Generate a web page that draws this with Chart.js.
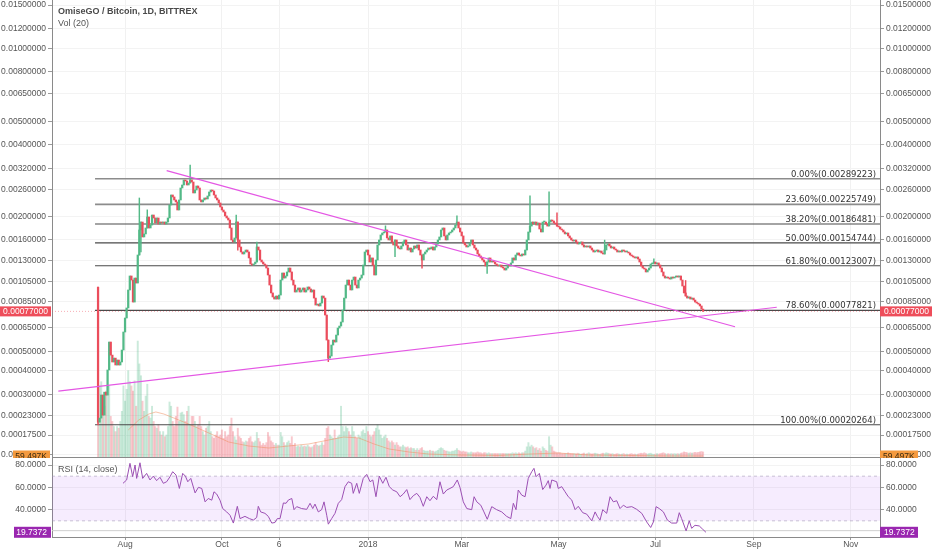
<!DOCTYPE html>
<html><head><meta charset="utf-8">
<script src="https://cdn.jsdelivr.net/npm/chart.js@4.4.1/dist/chart.umd.min.js"></script>
<style>
html,body{margin:0;padding:0;background:#fff;width:932px;height:550px;overflow:hidden;position:relative;font-family:'Liberation Sans',Arial,sans-serif}
#c1{position:absolute;left:0;top:0}
#c2{position:absolute;left:0;top:458px}
.t{position:absolute;white-space:nowrap;color:#4a4a4a;line-height:12px}
</style></head><body>
<canvas id="c1" width="932" height="458"></canvas>
<canvas id="c2" width="932" height="92"></canvas>
<div class="t" style="left:58px;top:5px;font-size:9px;font-weight:bold">OmiseGO / Bitcoin, 1D, BITTREX</div>
<div class="t" style="left:58px;top:17px;font-size:9px;color:#555">Vol (20)</div>
<div class="t" style="left:58px;top:463px;font-size:9px;color:#555">RSI (14, close)</div>
<script>
// ---------- DATA ----------
const startDay = -170;            // first candle: days relative to 1 Jan 2018
const firstOpen = 0.00099;
const closes = [
0.000210,0.000222,0.000299,0.000231,0.000310,0.000299,0.000404,0.000554,0.000479,0.000443,0.000463,0.000428,0.000453,0.000428,0.000443,0.000507,0.000618,0.000718,0.000798,0.000962,0.001110,
0.001065,0.000849,0.001087,0.001033,0.001371,0.001757,0.001900,0.001640,0.001690,0.001792,0.001996,0.001792,0.001845,0.002035,0.001977,0.001882,0.001977,0.001863,0.001900,0.001882,
0.001900,0.001863,0.001900,0.001977,0.002244,0.002473,0.002426,0.002356,0.002311,0.002137,0.002356,0.002646,0.002724,0.002858,0.002831,0.002724,0.002776,0.002858,0.002804,0.002522,
0.002595,0.002698,0.002646,0.002356,0.002311,0.002356,0.002402,0.002379,0.002449,0.002546,0.002595,0.002570,0.002473,0.002402,0.002356,0.002289,0.002201,0.002137,0.002096,0.002016,
0.001977,0.001938,0.001792,0.001592,0.001561,0.001624,0.001900,0.001592,0.001485,0.001413,0.001385,0.001413,0.001441,0.001413,0.001331,0.001253,0.001240,0.001253,0.001278,0.001485,
0.001441,0.001304,0.001278,0.001253,0.001240,0.001203,0.001121,0.001012,0.000933,0.000895,0.000876,0.000904,0.000876,0.000913,0.001065,0.001144,0.001087,0.001110,0.001156,0.001203,
0.001156,0.001065,0.001012,0.000942,0.000962,0.000982,0.000942,0.000962,0.000982,0.000942,0.000962,0.000992,0.000972,0.000942,0.000962,0.000885,0.000823,0.000831,0.000815,0.000840,
0.000904,0.000885,0.000741,0.000566,0.000463,0.000474,0.000536,0.000566,0.000554,0.000598,0.000645,0.000659,0.000688,0.000781,0.000885,0.001012,0.001065,0.001012,0.000962,0.001065,
0.001098,0.001012,0.000982,0.001065,0.001087,0.001121,0.001240,0.001413,0.001441,0.001371,0.001278,0.001331,0.001240,0.001121,0.001304,0.001515,0.001592,0.001673,0.001706,0.001723,
0.001757,0.001624,0.001592,0.001657,0.001561,0.001515,0.001592,0.001500,0.001470,0.001456,0.001500,0.001561,0.001592,0.001515,0.001441,0.001470,0.001413,0.001456,0.001500,0.001470,
0.001515,0.001441,0.001371,0.001304,0.001385,0.001413,0.001441,0.001470,0.001456,0.001485,0.001441,0.001485,0.001530,0.001592,0.001640,0.001757,0.001792,0.001657,0.001592,0.001673,
0.001706,0.001723,0.001757,0.001792,0.001845,0.001900,0.001792,0.001723,0.001657,0.001546,0.001515,0.001485,0.001500,0.001546,0.001592,0.001515,0.001470,0.001441,0.001385,0.001358,
0.001331,0.001304,0.001278,0.001228,0.001278,0.001331,0.001278,0.001291,0.001278,0.001253,0.001240,0.001228,0.001240,0.001215,0.001203,0.001179,0.001203,0.001240,0.001228,0.001266,
0.001331,0.001304,0.001371,0.001399,0.001371,0.001358,0.001385,0.001371,0.001441,0.001592,0.001723,0.001826,0.001900,0.001863,0.001900,0.001845,0.001882,0.001774,0.001723,0.001900,
0.001900,0.001863,0.001826,0.001900,0.001938,0.001919,0.001882,0.001863,0.001826,0.001810,0.001774,0.001757,0.001723,0.001690,0.001706,0.001657,0.001624,0.001592,0.001576,0.001592,
0.001561,0.001530,0.001546,0.001561,0.001515,0.001485,0.001500,0.001485,0.001500,0.001470,0.001441,0.001413,0.001427,0.001441,0.001413,0.001427,0.001399,0.001385,0.001441,0.001515,
0.001530,0.001500,0.001470,0.001485,0.001456,0.001441,0.001413,0.001427,0.001413,0.001441,0.001427,0.001413,0.001413,0.001399,0.001371,0.001358,0.001344,0.001331,0.001344,0.001317,
0.001278,0.001228,0.001203,0.001191,0.001156,0.001179,0.001203,0.001253,0.001266,0.001278,0.001253,0.001266,0.001240,0.001203,0.001156,0.001110,0.001087,0.001098,0.001087,0.001076,
0.001098,0.001087,0.001098,0.001110,0.001098,0.001110,0.001065,0.001002,0.000933,0.000904,0.000885,0.000895,0.000876,0.000885,0.000867,0.000849,0.000840,0.000831,0.000815,0.000789,0.000770
];
// notable wicks: candle index, high, low
const wickIdx   = [0,       26,      27,      31,      58,      87,      88,      100,     145,      181,     187,     204,     226,     245,     272,     284,     289,     319,     350,     370];
const wickHigh  = [0.00099, 0.002402,0.001900,0.00214, 0.0033,  0.002035,0.0019,  0.00156, 0.000566, 0.00183, 0.001592,0.001371,0.00202, 0.001278,0.00245, 0.00255, 0.00208, 0.00159, 0.00132, 0.00106];
const wickLow   = [0.000203,0.001371,0.001413,0.001792,0.002776,0.001624,0.00144, 0.001278,0.000445, 0.001723,0.00135, 0.0012,  0.001845,0.00114, 0.001723,0.001863,0.001826,0.001385,0.001253,0.000904];
// volume (thousands)
const volumes = [
720,840,890,720,600,780,840,840,480,420,360,300,360,340,420,540,840,660,800,1020,
890,840,780,900,600,1370,1100,960,660,540,720,860,480,460,600,420,360,340,380,300,
260,300,240,260,360,650,600,420,360,480,590,420,520,530,500,420,540,600,380,480,
480,420,360,380,480,360,300,260,340,360,420,300,240,220,260,300,240,260,320,220,
300,240,260,360,460,300,240,200,340,240,220,180,170,190,180,220,240,180,170,190,
290,220,180,140,160,140,170,290,240,190,170,140,160,140,140,290,240,170,140,170,
190,160,240,140,160,120,130,120,140,120,130,120,140,120,110,120,140,170,140,130,
140,170,140,220,340,360,260,240,220,320,220,240,260,600,360,300,360,340,300,260,
360,300,240,220,260,240,300,320,280,360,300,260,240,260,300,340,380,320,260,220,
240,260,220,190,170,190,170,140,170,140,120,120,140,120,110,120,100,110,100,100,
80,100,80,100,110,80,70,70,70,80,70,70,60,70,80,100,110,100,80,70,
70,60,60,70,70,80,100,80,70,60,70,60,60,50,50,60,50,50,50,60,
50,50,40,50,50,40,50,40,40,40,40,40,40,40,40,40,40,40,40,40,
40,50,40,50,40,50,40,50,50,70,120,170,120,140,120,100,110,80,100,70,
120,100,80,70,240,140,120,70,60,50,50,50,40,40,40,40,50,40,40,40,
40,35,45,40,30,40,45,35,40,50,40,35,40,45,40,35,30,40,45,40,
50,45,40,35,40,30,35,40,35,30,35,40,30,35,30,35,40,30,35,30,
35,40,45,40,50,40,35,40,45,35,30,35,40,35,40,45,50,40,35,40,
35,40,35,40,35,40,35,45,50,60,55,50,45,50,45,50,55,50,55,60,65,59.497
];
const volMaDays   = [-151,-144.4,-138,-133.6,-128.6,-122.3,-113,-100.3,-87.7,-75.1,-62.5,-50,-37.3,-24.7,-15.3,-5.8,3.7,13.2,25.8,38.4,57.3,82.3,101.2,120,139,164.2,189.4,211];
const volMaValues = [319,437,508,532,508,461,390,284,177,130,106,130,154,201,236,225,154,95,59,35,24,18,35,47,24,18,12,12];

const rsiDays = [-154.3,-152,-149.9,-148.2,-146.7,-145.7,-143.6,-141.9,-139.4,-137.3,-135.2,-133.1,-131,-128.9,-126.8,-124.7,-123,-120.9,-118.8,-116.7,-115,-113.5,-111.6,-108.9,-106.8,-104.7,-102.6,-100.6,-98.4,-97,-95.3,-93.2,-91.5,-89,-86.9,-84.8,-82.3,-80.6,-77.5,-74.7,-72.2,-70.1,-69.1,-67.6,-64.9,-62.8,-60.6,-58.6,-57.1,-55.4,-53.3,-51.6,-50.2,-48,-46.6,-44.9,-41.8,-38.6,-36.5,-34.8,-33.4,-31.3,-29.2,-27.7,-26,-25,-22.9,-20.8,-18.7,-16.6,-14.5,-12.4,-10.3,-9.3,-7.1,-5.5,-3,-0.8,1.3,3,5,7.1,9.3,11.3,13.4,15.6,18.1,20.2,22.2,24.4,26.4,28.5,30.7,32.7,34.8,37,39,41.1,43.3,45.3,47.4,49.6,51.6,53.7,56.2,57.9,60,62.2,65.3,66.8,68.5,71,73,75.1,77.9,81,84.2,87.3,89.9,91.5,93.2,94.6,96.8,98.9,100.9,103.1,104.5,105.8,107.9,110,112.1,113.5,114.6,115.7,118.8,119.8,122,124.1,126.1,128.3,130.4,132.4,135.2,137.7,140.9,143,144.4,146.1,147.8,150.3,152.4,154.5,156.6,158.7,160.8,162.9,166.1,169.2,172.4,175.5,178,179.7,181.4,183.4,186,188.5,191.2,194.4,196,197.5,200.3,202.3,203.8,205.9,208.6,210.8,212.8];
const rsiValues = [63.6,66.6,81.5,69.6,80,68,82,68,72.5,66.6,70,66,69,63.6,65,69.5,74,71,59,72.5,70,65,68,55,60,59,47,50,48.5,56,54,48.5,41,38,35,28,43,32,34,32,30.7,33,43,38,36.7,34,28,28.5,32,32,46,45.7,48.6,50,40,42.7,41,40.3,45.7,41,45,38,40,47,35,27,32,36.7,45.7,49,60.6,65,63.6,54.6,63.6,54.6,68,71.6,65,66.6,51.6,70,63.6,69,60.6,57.6,56,51.6,54,58,49,52.5,54.6,51,43,51.6,48,52,49,65,54,57.6,59,60.6,66.6,60,47,41,40,51.6,47,44,38,31.4,42.7,40,38,34,32,45.7,40,57.6,53,51.6,68,74,77,69.5,72.5,58,62,66,59,66.6,65,59,60.6,56,51.6,48.6,40,43,37.3,36,30,38,34,30.7,40,36.7,51.6,47,48,41,44,42,42.7,40.3,36.7,29,24,29,42.7,41,38,30.7,28,28,37.3,32,21,30,23.3,26,25.4,22.4,19.7372];

const priceTicks = [0.015,0.012,0.010,0.008,0.0065,0.005,0.004,0.0032,0.0026,0.002,0.0016,0.0013,0.00105,0.00085,0.00065,0.0005,0.0004,0.0003,0.00023,0.000175,0.00013];
const rsiTicks = [40,60,80];
const dateTickDays = [-153,-92,-56,0,59,120,181,243,304];
const dateTickLabels = ['Aug','Oct','6','2018','Mar','May','Jul','Sep','Nov'];
const fibLabels = ['0.00%','23.60%','38.20%','50.00%','61.80%','78.60%','100.00%'];
const fibValues = [0.00289223,0.00225749,0.00186481,0.00154744,0.00123007,0.00077821,0.00020264];
const fibStartDay = -171.9;
const trendDown = {days:[-126.8,231.1], prices:[0.003126,0.000654]};
const trendUp   = {days:[-195.0,257.4], prices:[0.000314,0.000804]};
const lastPrice = 0.00077;
const lastVolumeLabel = '59.497K';
const xMin = -199, xMax = 322.4;
const priceMin = 0.0001241, priceMax = 0.01572;
const volMax = 5400;
const rsiMin = 15.52, rsiMax = 86.27;

// ---------- custom price scale (TradingView-like log with offset) ----------
const OFFSET = 0.0001;
class OffsetLogScale extends Chart.LinearScale {
  determineDataLimits(){ this.min = this.options.min; this.max = this.options.max; }
  configure(){ super.configure(); this._tmin = Math.log(this.min + OFFSET); this._tmax = Math.log(this.max + OFFSET); }
  getPixelForValue(v){ if (v === null || v === undefined || isNaN(v)) return NaN;
    return this.getPixelForDecimal((Math.log(v + OFFSET) - this._tmin) / (this._tmax - this._tmin)); }
  getValueForPixel(p){ const d = this.getDecimalForPixel(p); return Math.exp(this._tmin + d*(this._tmax - this._tmin)) - OFFSET; }
}
OffsetLogScale.id = 'offsetlog';
OffsetLogScale.defaults = {};
Chart.register(OffsetLogScale);

Chart.defaults.font.family = "'Liberation Sans', Arial, sans-serif";
Chart.defaults.animation = false;

function noPad(s){ s.paddingTop = 0; s.paddingBottom = 0; s.paddingLeft = 0; s.paddingRight = 0; }

const UP = '#53b987', DOWN = '#eb4d5c';
const UPV = 'rgba(83,185,135,0.3)', DOWNV = 'rgba(235,77,92,0.3)';

const opens = closes.map((c,i)=> i===0 ? firstOpen : closes[i-1]);
const isUp = closes.map((c,i)=> c >= opens[i]);
const bodyData = closes.map((c,i)=>({x:startDay+i, y:[Math.min(opens[i],c), Math.max(opens[i],c)]}));
const wickData = wickIdx.map((d,k)=>({x:startDay+d, y:[wickLow[k], wickHigh[k]]}));
const volData = volumes.map((v,i)=>({x:startDay+i, y:v}));
const volMaData = volMaDays.map((d,i)=>({x:d, y:volMaValues[i]}));
const rsiData = rsiDays.map((d,i)=>({x:d, y:rsiValues[i]}));

const fibSets = fibValues.map((v,i)=>({
  type:'line', order:3, data:[{x:fibStartDay,y:v},{x:xMax,y:v}],
  borderColor: i<2 ? '#8c8c8c' : '#4a4a4a', borderWidth: i<2 ? 1.6 : 1.1,
  pointRadius:0, yAxisID:'y'
}));
const trendSets = [trendDown, trendUp].map(t=>({
  type:'line', order:0, data:t.days.map((d,i)=>({x:d,y:t.prices[i]})),
  borderColor:'#e457e4', borderWidth:1.2, pointRadius:0, yAxisID:'y'
}));

function box(ctx, x, y, w, h, bg, txt, col, align, tx){
  ctx.fillStyle = bg; ctx.fillRect(x, y, w, h);
  ctx.fillStyle = col; ctx.textAlign = align; ctx.textBaseline = 'middle';
  ctx.fillText(txt, tx, y + h/2 + 0.5);
}

const overlay1 = {
  id:'overlay1',
  afterDraw(chart){
    const {ctx, chartArea:a} = chart; const y = chart.scales.y;
    ctx.save();
    ctx.font = '8.5px "DejaVu Sans"'; ctx.fillStyle = '#333'; ctx.textAlign = 'right'; ctx.textBaseline = 'alphabetic';
    fibValues.forEach((v,i)=>{ const py = y.getPixelForValue(v); ctx.fillText(fibLabels[i]+'('+v.toFixed(8)+')', 876, py-2); });
    const pp = y.getPixelForValue(lastPrice);
    ctx.strokeStyle = 'rgba(238,77,90,0.45)'; ctx.lineWidth = 1; ctx.setLineDash([1,2]);
    ctx.beginPath(); ctx.moveTo(a.left, pp); ctx.lineTo(a.right, pp); ctx.stroke(); ctx.setLineDash([]);
    ctx.font = '8.5px "Liberation Sans"';
    box(ctx, 0, pp-5, 51, 10, '#ee4d5a', lastPrice.toFixed(8), '#fff', 'right', 48);
    box(ctx, 880, pp-5, 52, 10, '#ee4d5a', lastPrice.toFixed(8), '#fff', 'left', 884);
    box(ctx, 13, a.bottom-6.5, 37, 11, '#f49a3f', lastVolumeLabel, '#3a2a10', 'right', 47);
    box(ctx, 880, a.bottom-6.5, 38, 11, '#f49a3f', lastVolumeLabel, '#3a2a10', 'left', 883);
    ctx.strokeStyle = '#8a8a8a'; ctx.lineWidth = 1;
    ctx.beginPath(); ctx.moveTo(a.left, a.bottom+0.5); ctx.lineTo(a.right, a.bottom+0.5); ctx.stroke();
    ctx.restore();
  }
};

const priceAxis = (pos)=>({
  type:'offsetlog', position:pos, min:priceMin, max:priceMax, bounds:'data',
  afterBuildTicks: s=>{ s.ticks = priceTicks.map(v=>({value:v})); },
  afterFit: s=>{ s.width = 52; noPad(s); },
  grid:{color:'#f3f3f3', tickLength:4, tickColor:'#9a9a9a', drawOnChartArea: pos==='left'},
  border:{display:true, color:'#8a8a8a'},
  ticks:{font:{size:8.5}, color:'#555', padding:2, autoSkip:false, callback:v=>Number(v).toFixed(8)}
});

new Chart(document.getElementById('c1'), {
  type:'bar',
  data:{ datasets:[
    ...trendSets,
    {type:'bar', order:1, data:bodyData, yAxisID:'y', grouped:false, barThickness:1.6, minBarLength:1,
     backgroundColor: bodyData.map((d,i)=> isUp[i]?UP:DOWN), borderWidth:0},
    {type:'bar', order:2, data:wickData, yAxisID:'y', grouped:false, barThickness:0.8,
     backgroundColor: wickIdx.map(d=> isUp[d]?UP:DOWN), borderWidth:0},
    ...fibSets,
    {type:'line', order:4, data:volMaData, yAxisID:'yv', borderColor:'rgba(240,140,90,0.5)', borderWidth:1, pointRadius:0},
    {type:'bar', order:5, data:volData, yAxisID:'yv', grouped:false, barThickness:1.3,
     backgroundColor: volData.map((d,i)=> isUp[i]?UPV:DOWNV), borderWidth:0}
  ]},
  options:{
    responsive:false, animation:false, events:[],
    layout:{padding:{left:0,right:0,top:0,bottom:1}},
    plugins:{legend:{display:false}, tooltip:{enabled:false}},
    scales:{
      x:{type:'linear', min:xMin, max:xMax, bounds:'data', offset:false,
         grid:{color:'#f1f1f1', drawTicks:false, offset:false}, border:{display:false},
         ticks:{display:false}, afterBuildTicks:s=>{ s.ticks = dateTickDays.map(v=>({value:v})); },
         afterFit:s=>{ s.height = 0; noPad(s); }},
      y: priceAxis('left'),
      yR: priceAxis('right'),
      yv:{type:'linear', display:false, min:0, max:volMax, bounds:'data'}
    }
  },
  plugins:[overlay1]
});

const overlay2 = {
  id:'overlay2',
  beforeDatasetsDraw(chart){
    const {ctx, chartArea:a} = chart; const y = chart.scales.y;
    const y70 = y.getPixelForValue(70), y30 = y.getPixelForValue(30);
    ctx.save();
    ctx.fillStyle = 'rgba(150,40,240,0.085)'; ctx.fillRect(a.left, y70, a.right-a.left, y30-y70);
    ctx.strokeStyle = 'rgba(160,150,180,0.55)'; ctx.lineWidth = 1; ctx.setLineDash([3,3]);
    [y70,y30].forEach(p=>{ ctx.beginPath(); ctx.moveTo(a.left,p); ctx.lineTo(a.right,p); ctx.stroke(); });
    ctx.setLineDash([]);
    const y21 = y.getPixelForValue(21.2);
    ctx.strokeStyle = '#cfcfcf'; ctx.beginPath(); ctx.moveTo(a.left,y21); ctx.lineTo(a.right,y21); ctx.stroke();
    ctx.restore();
  },
  afterDraw(chart){
    const {ctx} = chart; const y = chart.scales.y;
    const last = rsiValues[rsiValues.length-1];
    const p = y.getPixelForValue(last);
    ctx.save(); ctx.font = '8.5px "Liberation Sans"';
    box(ctx, 14, p-5.5, 37, 11, '#9a27b0', last.toFixed(4), '#fff', 'right', 47);
    box(ctx, 880, p-5.5, 38, 11, '#9a27b0', last.toFixed(4), '#fff', 'left', 884);
    ctx.restore();
  }
};

const rsiAxis = (pos)=>({
  type:'linear', position:pos, min:rsiMin, max:rsiMax, bounds:'data',
  afterBuildTicks: s=>{ s.ticks = rsiTicks.map(v=>({value:v})); },
  afterFit: s=>{ s.width = 52; noPad(s); },
  grid:{color:'#f3f3f3', tickLength:4, tickColor:'#9a9a9a', drawOnChartArea: pos==='left'},
  border:{display:true, color:'#8a8a8a'},
  ticks:{font:{size:8.5}, color:'#555', padding:2, autoSkip:false, callback:v=>Number(v).toFixed(4)}
});

new Chart(document.getElementById('c2'), {
  type:'line',
  data:{ datasets:[
    {data:rsiData, borderColor:'#9b4fb3', borderWidth:1, pointRadius:0, tension:0}
  ]},
  options:{
    responsive:false, animation:false, events:[],
    layout:{padding:0},
    plugins:{legend:{display:false}, tooltip:{enabled:false}},
    scales:{
      x:{type:'linear', min:xMin, max:xMax, bounds:'data', offset:false,
         grid:{color:'#f1f1f1', tickLength:3, tickColor:'#9a9a9a'}, border:{display:true, color:'#8a8a8a'},
         afterBuildTicks:s=>{ s.ticks = dateTickDays.map(v=>({value:v})); },
         ticks:{font:{size:8.5}, color:'#555', padding:0, autoSkip:false, maxRotation:0,
                callback:(v,i)=>dateTickLabels[i]},
         afterFit:s=>{ s.height = 13; noPad(s); }},
      y: rsiAxis('left'),
      yR: rsiAxis('right')
    }
  },
  plugins:[overlay2]
});
</script>
</body></html>
